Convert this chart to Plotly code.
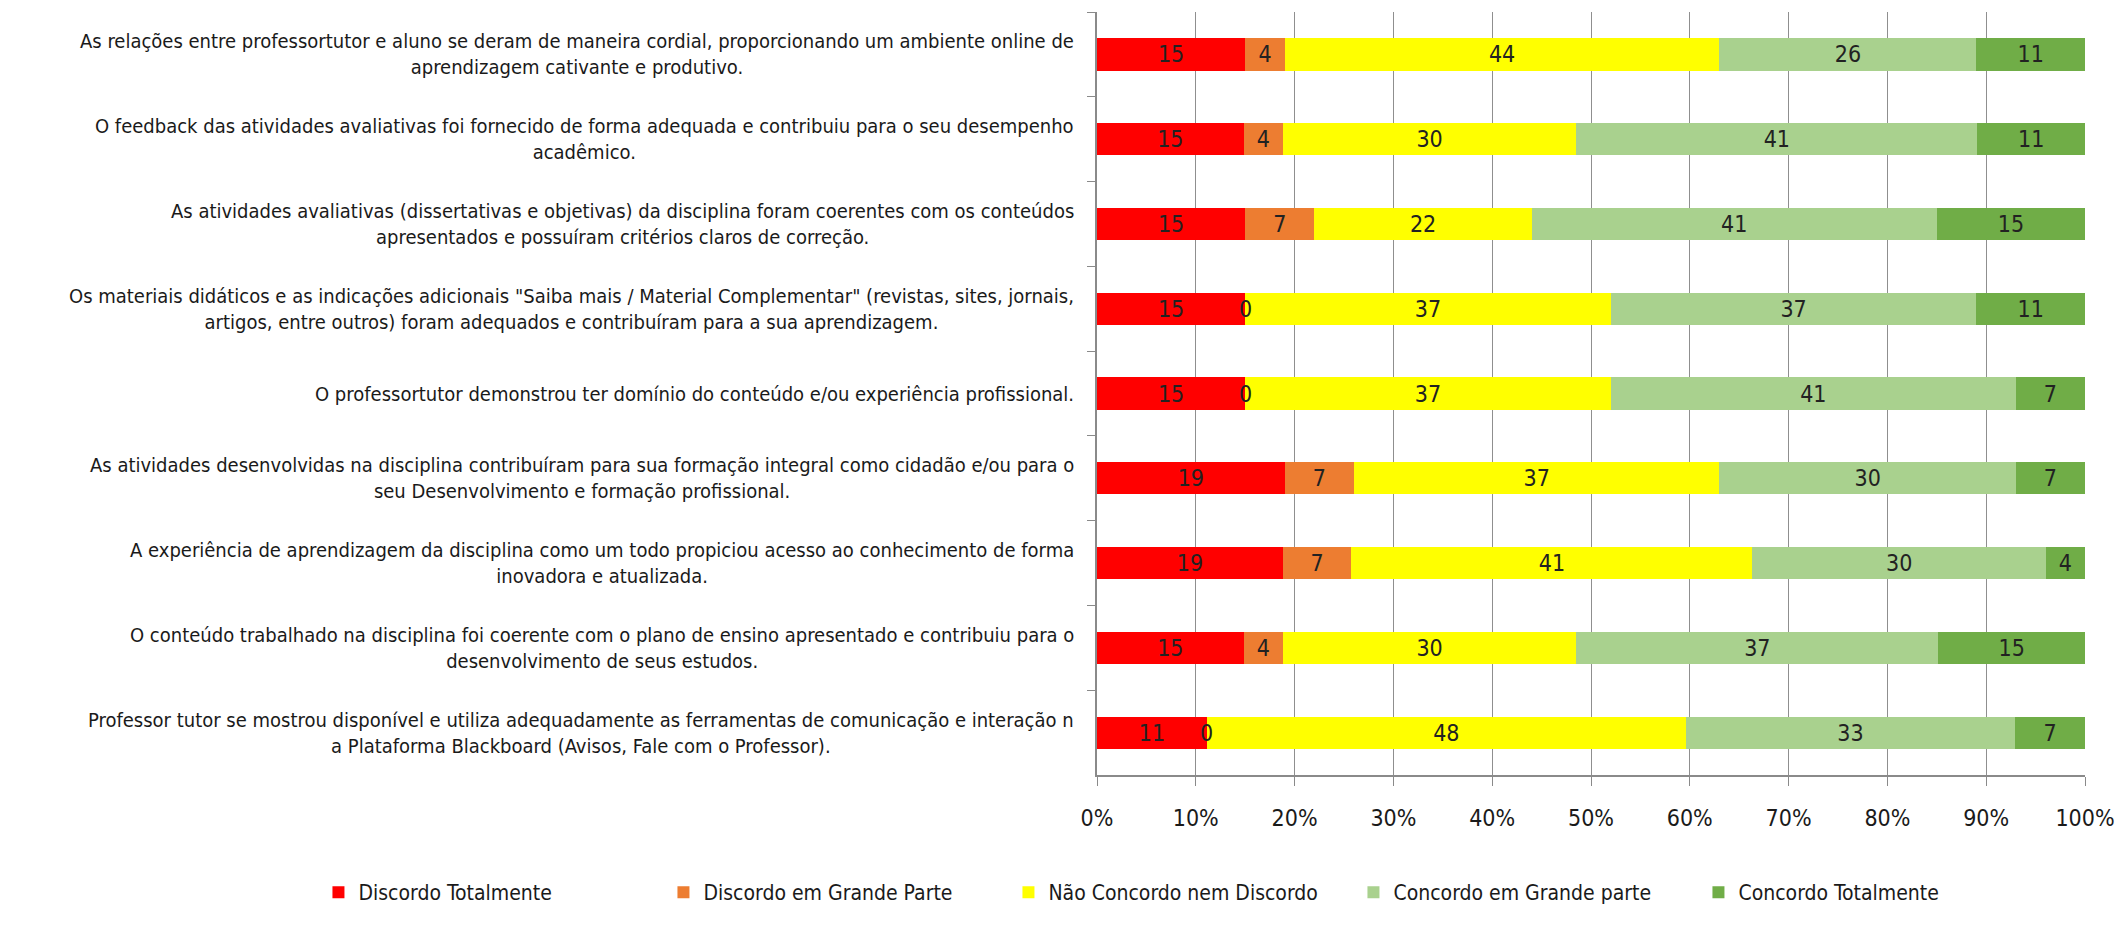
import plotly.graph_objects as go

categories = [
    "As relações entre professortutor e aluno se deram de maneira cordial, proporcionando um ambiente online de<br>aprendizagem cativante e produtivo.",
    "O feedback das atividades avaliativas foi fornecido de forma adequada e contribuiu para o seu desempenho<br>acadêmico.",
    "As atividades avaliativas (dissertativas e objetivas) da disciplina foram coerentes com os conteúdos<br>apresentados e possuíram critérios claros de correção.",
    "Os materiais didáticos e as indicações adicionais \"Saiba mais / Material Complementar\" (revistas, sites, jornais,<br>artigos, entre outros) foram adequados e contribuíram para a sua aprendizagem.",
    "O professortutor demonstrou ter domínio do conteúdo e/ou experiência profissional.",
    "As atividades desenvolvidas na disciplina contribuíram para sua formação integral como cidadão e/ou para o<br>seu Desenvolvimento e formação profissional.",
    "A experiência de aprendizagem da disciplina como um todo propiciou acesso ao conhecimento de forma<br>inovadora e atualizada.",
    "O conteúdo trabalhado na disciplina foi coerente com o plano de ensino apresentado e contribuiu para o<br>desenvolvimento de seus estudos.",
    "Professor tutor se mostrou disponível e utiliza adequadamente as ferramentas de comunicação e interação n<br>a Plataforma Blackboard (Avisos, Fale com o Professor).",
]

series_names = [
    "Discordo Totalmente",
    "Discordo em Grande Parte",
    "Não Concordo nem Discordo",
    "Concordo em Grande parte",
    "Concordo Totalmente",
]

discordo_totalmente = [15, 15, 15, 15, 15, 19, 19, 15, 11]
discordo_grande = [4, 4, 7, 0, 0, 7, 7, 4, 0]
neutro = [44, 30, 22, 37, 37, 37, 41, 30, 48]
concordo_grande = [26, 41, 41, 37, 41, 30, 30, 37, 33]
concordo_totalmente = [11, 11, 15, 11, 7, 7, 4, 15, 7]

tick_values = list(range(0, 101, 10))
tick_labels = [f"{v}%" for v in tick_values]

colors = ["#FF0000", "#ED7D31", "#FFFF00", "#A9D18E", "#70AD47"]

FONT = "DejaVu Sans Condensed, Liberation Sans Narrow, Arial Narrow, sans-serif"
TEXT = "#1a1a1a"

all_series = [discordo_totalmente, discordo_grande, neutro, concordo_grande, concordo_totalmente]
ids = list(range(len(categories)))

fig = go.Figure()
for name, vals, col in zip(series_names, all_series, colors):
    fig.add_trace(go.Bar(
        y=ids, x=vals, name=name, orientation="h",
        marker=dict(color=col, line=dict(width=0)),
        text=[str(v) if v != 0 else "" for v in vals],
        textposition="inside", insidetextanchor="middle", textangle=0,
        textfont=dict(family=FONT, size=23, color="#222222"),
        constraintext="none",
    ))

annotations = []
for i, c in enumerate(categories):
    annotations.append(dict(
        x=0, xref="paper", xshift=-21, y=i, yref="y",
        text=c, showarrow=False, xanchor="right", yanchor="middle",
        align="center", font=dict(family=FONT, size=20, color=TEXT),
    ))
# labels for zero-valued orange segments, placed at the segment boundary
for i in ids:
    if discordo_grande[i] == 0:
        total = sum(s[i] for s in all_series)
        pos = discordo_totalmente[i] / total * 100
        annotations.append(dict(
            x=pos, xref="x", y=i, yref="y", text=str(discordo_grande[i]),
            showarrow=False, xanchor="center", yanchor="middle",
            font=dict(family=FONT, size=23, color="#222222"),
        ))

fig.update_layout(
    barmode="stack", barnorm="percent", bargap=0.62,
    width=2127, height=925,
    margin=dict(l=1097, r=30, t=12, b=132),
    plot_bgcolor="white", paper_bgcolor="white",
    font=dict(family=FONT, size=21, color=TEXT),
    annotations=annotations,
    legend=dict(
        orientation="h", x=-0.788, xanchor="left", y=-0.154, yanchor="middle",
        font=dict(family=FONT, size=21, color=TEXT),
        entrywidth=300, entrywidthmode="pixels", traceorder="normal",
    ),
    showlegend=True,
)
fig.update_xaxes(
    range=[0, 100], tickvals=tick_values, ticktext=tick_labels,
    showgrid=True, gridcolor="#8F8F8F", gridwidth=1,
    showline=True, linecolor="#8A8A8A", linewidth=1.5,
    ticks="outside", ticklen=9, tickcolor="#8A8A8A",
    ticklabelstandoff=13,
    tickfont=dict(family=FONT, size=23, color=TEXT),
    zeroline=False,
)
fig.update_yaxes(
    type="category", autorange="reversed",
    showticklabels=False, showgrid=False,
    showline=True, linecolor="#8A8A8A", linewidth=1.5,
    ticks="outside", ticklen=8, tickcolor="#8A8A8A", tickson="boundaries",
    zeroline=False,
)

fig.write_html("out.html")
